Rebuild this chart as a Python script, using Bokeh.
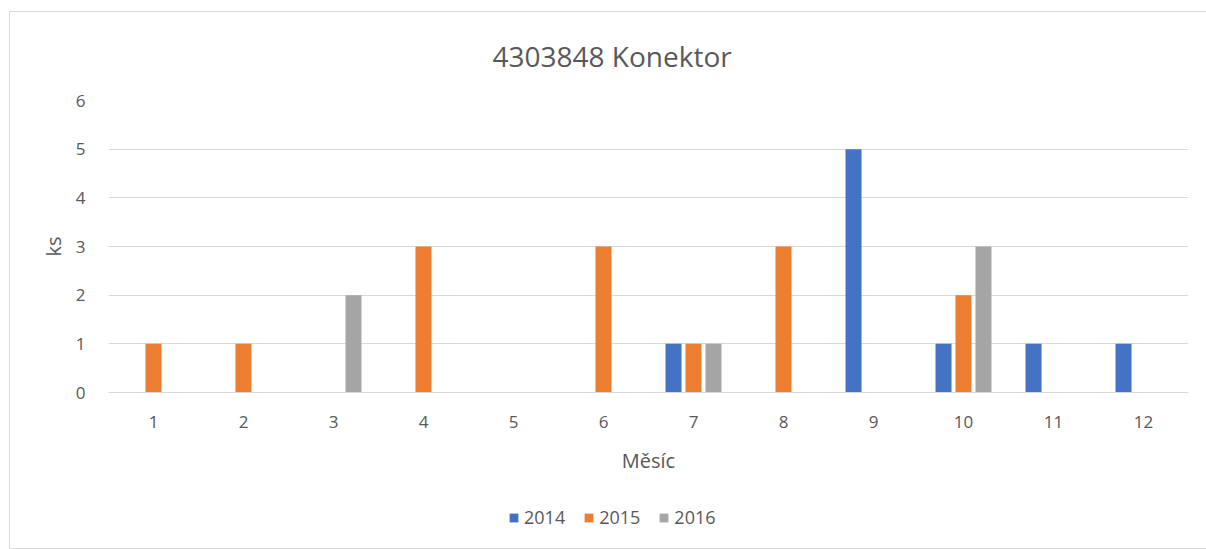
from bokeh.plotting import figure
from bokeh.layouts import column
from bokeh.models import ColumnDataSource, Range1d, FixedTicker, Legend, LegendItem
from bokeh.embed import file_html
from bokeh.resources import INLINE

# Monthly quantities (ks) of part 4303848 per year
months = [1, 2, 3, 4, 5, 6, 7, 8, 9, 10, 11, 12]
y2014 = [0, 0, 0, 0, 0, 0, 1, 0, 5, 1, 1, 1]
y2015 = [1, 1, 0, 3, 0, 3, 1, 3, 0, 2, 0, 0]
y2016 = [0, 0, 2, 0, 0, 0, 1, 0, 0, 3, 0, 0]
years = ["2014", "2015", "2016"]
y_ticks = [0, 1, 2, 3, 4, 5, 6]

colors = ["#4472C4", "#ED7D31", "#A5A5A5"]
text_color = "#595959"
font = "Open Sans"

# main chart
p = figure(
    width=1197, height=470,
    x_range=Range1d(0.5, 12.5), y_range=Range1d(0, 6),
    output_backend="svg", toolbar_location=None,
    min_border_left=98, min_border_right=19,
    min_border_top=88, min_border_bottom=90,
)
p.outline_line_color = None
p.background_fill_color = "white"
p.border_fill_color = "white"

p.title.text = "4303848 Konektor"
p.title.align = "left"
p.title.offset = 384
p.title.vertical_align = "top"
p.title.text_font = font
p.title.text_font_size = "28px"
p.title.text_font_style = "normal"
p.title.text_color = text_color
p.title.standoff = 48

offsets = [-0.222, 0.0, 0.222]
series = [y2014, y2015, y2016]
for vals, off, col in zip(series, offsets, colors):
    src = ColumnDataSource(dict(x=[m + off for m in months], top=vals))
    p.vbar(x="x", top="top", width=0.178, source=src,
           fill_color=col, line_color=None)

p.xaxis.ticker = FixedTicker(ticks=months)
p.yaxis.ticker = FixedTicker(ticks=y_ticks)
for ax in (p.xaxis[0], p.yaxis[0]):
    ax.major_tick_line_color = None
    ax.minor_tick_line_color = None
    ax.major_label_text_color = text_color
    ax.major_label_text_font = font
    ax.major_label_text_font_size = "17px"
    ax.axis_label_text_color = text_color
    ax.axis_label_text_font = font
    ax.axis_label_text_font_size = "20px"
    ax.axis_label_text_font_style = "normal"
    ax.major_label_standoff = 17

p.yaxis.axis_line_color = None
p.xaxis.axis_line_color = "#d9d9d9"
p.xaxis.axis_label = "Měsíc"
p.yaxis.axis_label = "ks"
p.xaxis.axis_label_standoff = 16
p.yaxis.axis_label_standoff = 6

p.xgrid.grid_line_color = None
p.ygrid.grid_line_color = "#d9d9d9"

# legend strip under the chart
lf = figure(
    width=1197, height=66,
    x_range=Range1d(0, 1), y_range=Range1d(0, 1),
    x_axis_type=None, y_axis_type=None,
    output_backend="svg", toolbar_location=None,
    min_border=0,
)
lf.outline_line_color = None
lf.xgrid.grid_line_color = None
lf.ygrid.grid_line_color = None

# swatch-only renderers: zero-height bars, so only the legend swatches show
items = []
for name, col in zip(years, colors):
    r = lf.vbar(x=[0.5], top=[0], bottom=[0], width=0.1,
                fill_color=col, line_color=None)
    items.append(LegendItem(label=name, renderers=[r]))

legend = Legend(
    items=items, orientation="horizontal", location=(400, 19),
    glyph_width=11, glyph_height=11, label_standoff=5, spacing=18,
    padding=0, margin=0, border_line_color=None, background_fill_alpha=0,
    label_text_font=font, label_text_font_size="18px", label_text_color=text_color,
)
lf.add_layout(legend, "center")

page = column(p, lf, spacing=0)
page.margin = (11, 0, 0, 9)
page.styles = {
    "border-top": "1px solid #d9d9d9",
    "border-left": "1px solid #d9d9d9",
    "border-bottom": "1px solid #d9d9d9",
}

open("out.html", "w").write(file_html(page, INLINE))
